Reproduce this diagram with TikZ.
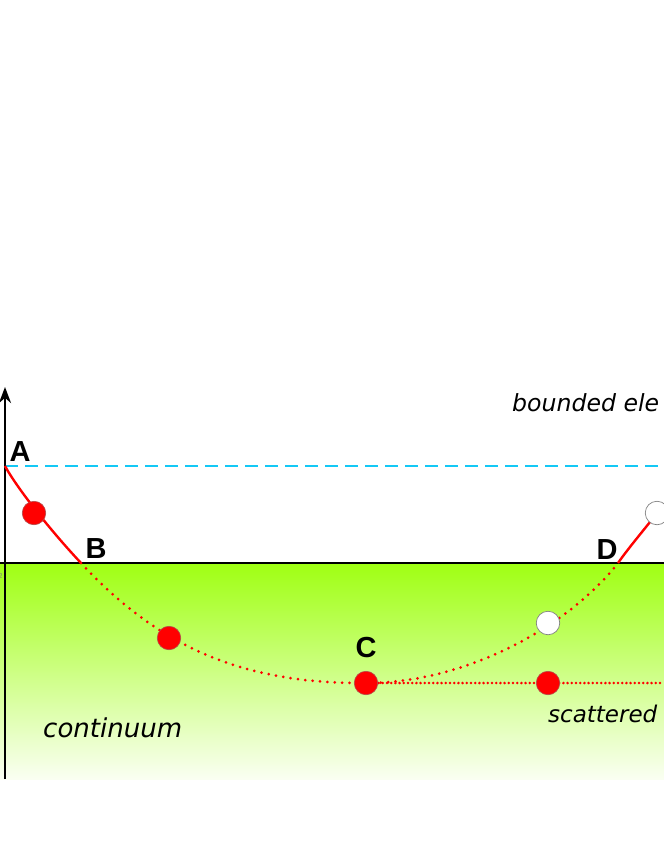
\documentclass[tikz,border=0pt]{standalone}
\usepackage{fontspec}
\setmainfont{Liberation Sans}
\newfontfamily\obfont{DejaVu Sans}
\usetikzlibrary{arrows.meta}
\definecolor{greentop}{RGB}{160,255,20}
\definecolor{greenbot}{RGB}{250,255,242}
\definecolor{cyanline}{RGB}{20,200,245}
\begin{document}
\begin{tikzpicture}[x=1pt,y=-1pt,
  redline/.style={red, line width=2.4pt},
  reddots/.style={red, line width=3pt, dash pattern=on 0pt off 7.4pt, line cap=round},
  reddense/.style={red, line width=2.8pt, dash pattern=on 0pt off 4.2pt, line cap=round},
  rdot/.style={circle, fill=red, draw=gray!60!red, line width=0.6pt, minimum size=23.5pt, inner sep=0pt},
  wdot/.style={circle, fill=white, draw=gray, line width=0.7pt, minimum size=23.5pt, inner sep=0pt},
  lab/.style={font=\fontsize{29}{30}\selectfont\bfseries, inner sep=0pt, anchor=base},
  itext/.style={font=\obfont\fontsize{26}{28}\selectfont\itshape, inner sep=0pt, anchor=base west}]
\useasboundingbox (0,0) rectangle (664,860);
% green continuum
\shade[top color=greentop, bottom color=greenbot] (0,564) rectangle (664,779);
% levels
\draw[line width=2.6pt] (0,563) -- (664,563);
\coordinate (A) at (5,466);
\coordinate (Rend) at (664,466);
\draw[cyanline, line width=2.6pt, dash pattern=on 13pt off 7pt] (A) -- (Rend);
% axis
\coordinate (ax0) at (5,779);
\coordinate (ax1) at (5,387);
\draw[line width=2.6pt, -{Stealth[length=16pt,width=12pt]}] (ax0) -- (ax1);
% trajectory
\coordinate (B) at (81,563);
\coordinate (C) at (366,683);
\coordinate (D) at (618,563);
\coordinate (E) at (657,513);
\coordinate (H) at (664,683);
\draw[redline] (A) .. controls (17,488) and (50,530) .. (B);
\draw[reddots] (B) .. controls (157,645) and (240,684) .. (C);
\draw[reddots] (C) .. controls (466,683) and (568,627) .. (D);
\draw[reddense] (C) -- (H);
\draw[redline] (D) .. controls (630,546) and (644,530) .. (E);
% particles
\node[rdot] (p1) at (34,513) {};
\node[rdot] (p2) at (169,638) {};
\node[rdot] (p3) at (C) {};
\node[wdot] (p4) at (548,623) {};
\node[rdot] (p5) at (548,683) {};
\node[wdot] (p6) at (E) {};
% labels
\node[lab] (lA) at (20,461) {A};
\node[lab] (lB) at (96,558) {B};
\node[lab] (lC) at (366,657) {C};
\node[lab] (lD) at (607,559) {D};
\node[font=\fontsize{7}{8}\selectfont, text=gray, inner sep=0pt] (t2) at (0.5,576) {2};
\node[itext, font=\obfont\fontsize{23.6}{26}\selectfont\itshape] (tb) at (512,411) {bounded ele};
\node[itext] (tc) at (43,737) {continuum};
\node[itext, font=\obfont\fontsize{23}{26}\selectfont\itshape] (ts) at (548,722) {scattered};
\end{tikzpicture}
\end{document}
